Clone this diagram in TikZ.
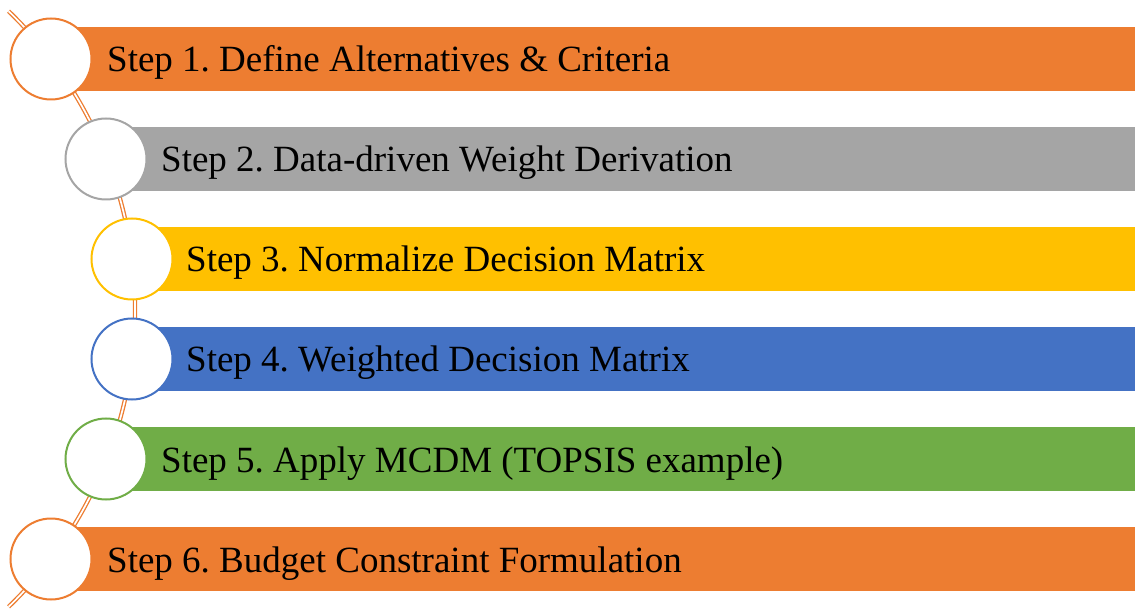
\documentclass[tikz,border=0pt]{standalone}
\usepackage{fontspec}
\setmainfont{Liberation Serif}
\frenchspacing
\definecolor{accOrange}{HTML}{ED7D31}
\definecolor{accGray}{HTML}{A5A5A5}
\definecolor{accGold}{HTML}{FFC000}
\definecolor{accBlue}{HTML}{4472C4}
\definecolor{accGreen}{HTML}{70AD47}
\tikzset{
  spine/.style={draw=accOrange, line width=1.3pt, double=white, double distance=1.7pt},
  marker/.style={circle, draw=#1, line width=2pt, fill=white, minimum size=81pt, inner sep=0pt},
  label/.style={anchor=base west, inner sep=0pt, font=\fontsize{37}{40}\selectfont, text=black},
}
\begin{document}
\begin{tikzpicture}[x=1pt,y=-1pt]
\useasboundingbox (0,0) rectangle (1135,609);
% curved spine through the step markers
\coordinate (hub) at (-279,309);
\draw[spine] (hub) ++(-46:414) arc[start angle=-46, end angle=46, radius=414];
% coloured bars
\fill[accOrange] (51,27)  rectangle (1135,91);
\fill[accGray]   (106,127) rectangle (1135,191);
\fill[accGold]   (132,227) rectangle (1135,291);
\fill[accBlue]   (132,327) rectangle (1135,391);
\fill[accGreen]  (106,427) rectangle (1135,491);
\fill[accOrange] (51,527) rectangle (1135,591);
% step markers
\node[marker=accOrange] (c1) at (51,59)  {};
\node[marker=accGray]   (c2) at (106,159) {};
\node[marker=accGold]   (c3) at (132,259) {};
\node[marker=accBlue]   (c4) at (132,359) {};
\node[marker=accGreen]  (c5) at (106,459) {};
\node[marker=accOrange] (c6) at (51,559) {};
% step labels
\node[label] (t1) at (107,72)  {Step 1. Define Alternatives \& Criteria};
\node[label] (t2) at (161,172) {Step 2. Data-driven Weight Derivation};
\node[label] (t3) at (186,272) {Step 3. Normalize Decision Matrix};
\node[label] (t4) at (186,372) {Step 4. Weighted Decision Matrix};
\node[label] (t5) at (161,472) {Step 5. Apply MCDM (TOPSIS example)};
\node[label] (t6) at (107,572) {Step 6. Budget Constraint Formulation};
\end{tikzpicture}
\end{document}
